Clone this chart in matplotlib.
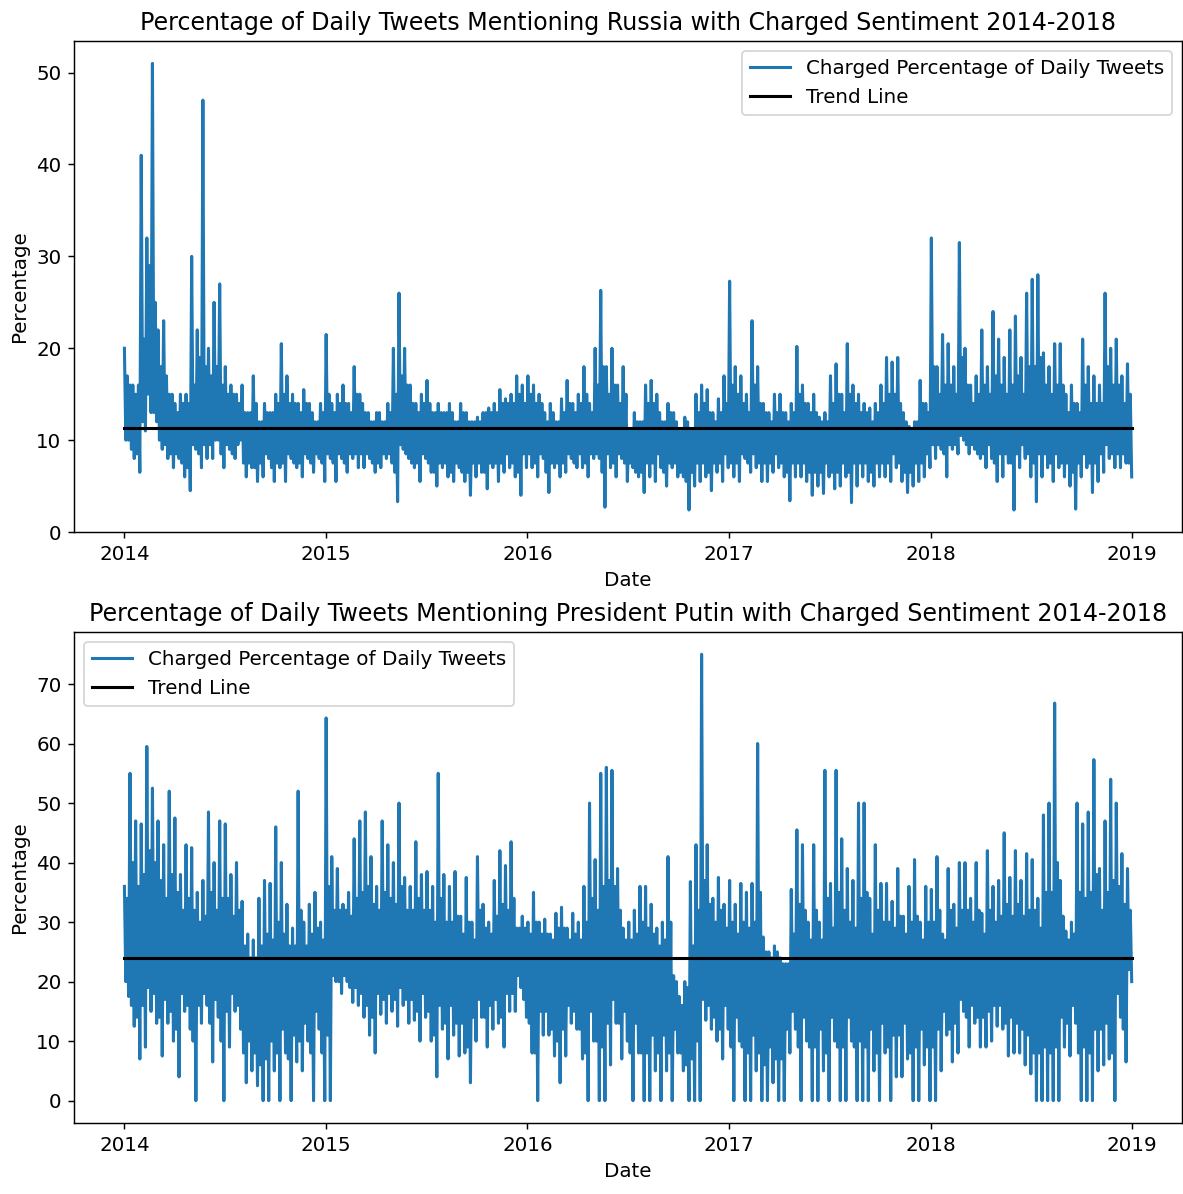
import matplotlib
matplotlib.use('Agg')
import matplotlib.pyplot as plt
import numpy as np
import pandas as pd

plt.rcParams['font.size'] = 11

# daily series, Jan 2014 .. Dec 2018, three readings per month:
# *_hi = spike tops, *_lo = dips, *_cu / *_cl = upper / lower edge of the solid core
russia_hi = [
    20, 16, 15,  41, 32, 51,  22, 23, 15,  14, 15, 15,  30, 22, 47,  20, 25, 27,
    18, 16, 15,  16, 13, 17,  12, 14, 13,  15, 20.5, 17,  15, 14, 15.5,  14, 12, 14,
    21.5, 14, 15,  16, 14, 18,  15, 13, 12,  13, 12, 14,  20, 26, 20,  16, 14, 15,
    16.5, 13, 14,  13, 14, 12,  14, 13, 12,  12.5, 13, 13.5,  14, 15.5, 14.5,  15, 17, 16,
    17, 16, 15,  13, 14, 12,  14.5, 16.5, 14,  15, 18, 14,  20, 26.3, 18,  20, 16, 18,
    11, 13, 12,  16, 16.5, 15,  12, 14, 13,  11, 12.5, 11,  15, 16, 15.5,  13, 14.5, 17,
    27.3, 18, 17,  15, 23, 18,  14, 13, 15,  15, 13, 14,  20.2, 16, 14,  15, 12.5, 13,
    17, 18.3, 15,  20.5, 16, 15,  14, 13.5, 14,  16, 19, 18.5,  19, 13, 11.5,  12, 16.5, 14,
    32, 18, 21.5,  20.5, 18, 31.5,  20, 16, 17,  22, 18, 24,  21, 19, 22,  23.5, 19, 26,
    27.5, 28, 19.5,  18, 20.5, 20.5,  15, 16, 14,  21, 18, 17,  16, 26, 20,  21, 17, 18.3,
]
russia_cu = [
    17, 16, 16,  21, 29, 25,  18, 17, 15,  13, 14, 14,  16, 19, 18,  17, 18, 16,
    15, 15, 14,  13, 13, 14,  12, 13, 13,  14, 15, 14,  14, 13, 14,  13, 12, 13,
    15, 13, 14,  14, 13, 15,  14, 13, 12,  13, 12, 13,  15, 17, 16,  14, 13, 14,
    14, 13, 13,  13, 13, 12,  13, 12, 12,  12, 13, 13,  13, 14, 14,  14, 15, 14,
    15, 14, 14,  12, 13, 12,  13, 14, 13,  14, 15, 13,  16, 18, 15,  16, 14, 15,
    11, 12, 12,  14, 14, 13,  12, 13, 12,  11, 12, 11,  13, 14, 13,  12, 13, 14,
    16, 15, 14,  13, 16, 14,  13, 12, 13,  13, 12, 13,  15, 14, 13,  13, 12, 12,
    14, 15, 13,  15, 14, 13,  13, 12, 13,  14, 15, 15,  14, 12, 11,  12, 14, 13,
    18, 15, 16,  16, 15, 19,  16, 14, 15,  16, 15, 17,  16, 15, 16,  17, 15, 18,
    18, 19, 16,  15, 16, 16,  13, 14, 13,  16, 14, 14,  14, 18, 16,  16, 14, 15,
]
russia_cl = [
    10, 9, 8.5,  12, 15, 13,  10, 9.5, 8.5,  8.5, 7.5, 7,  9.5, 8.5, 9.5,  9.5, 10, 8.5,
    9.5, 8.5, 9.5,  7.5, 7.5, 7,  7.5, 8.5, 7,  7.5, 7.5, 8.5,  7.5, 7.5, 8.5,  7.5, 8.5, 7.5,
    8.5, 7.5, 8.5,  7.5, 8.5, 8.5,  8.5, 8.5, 7.5,  7.5, 8.5, 8.5,  6.5, 9.5, 8.5,  7.5, 7.5, 8.5,
    7.5, 6.5, 7.5,  7.5, 6.5, 7.5,  6.5, 6.5, 7.5,  7.5, 6.5, 7.5,  7.5, 7.5, 8.5,  7.5, 6.5, 8.5,
    8.5, 7.5, 8.5,  6.5, 7.5, 7.5,  7.5, 8.5, 7.5,  8.5, 7.5, 8.5,  8.5, 6.5, 8.5,  7.5, 8.5, 7.5,
    7.5, 6.5, 6.5,  7.5, 7.5, 8.5,  6.5, 7.5, 7.5,  6.5, 5.5, 6.5,  7.5, 7.5, 6.5,  7.5, 7.5, 8.5,
    7.5, 7.5, 8.5,  7.5, 8.5, 7.5,  7.5, 7.5, 8.5,  7.5, 6.5, 7.5,  7.5, 7.5, 6.5,  6.5, 6.5, 7.5,
    6.5, 6.5, 7.5,  6.5, 7.5, 7.5,  7.5, 6.5, 7.5,  7.5, 7.5, 8.5,  7.5, 6.5, 6.5,  7.5, 7.5, 8.5,
    9.5, 9.5, 8.5,  9.5, 9.5, 10.5,  9.5, 9.5, 8.5,  8.5, 9.5, 7.5,  8.5, 8.5, 7.5,  8.5, 9.5, 8.5,
    7.5, 8.5, 8.5,  7.5, 8.5, 7.5,  7.5, 6.5, 7.5,  8.5, 7.5, 7.5,  8.5, 9.5, 8.5,  8.5, 8.5, 7.5,
]
russia_lo = [
    10, 8, 6.5,  11, 13, 12,  9, 8, 7,  8, 6, 4.5,  9, 7, 8,  8, 10, 7,
    9, 8, 10,  6, 7, 5.5,  6, 8, 5.5,  7, 5.5, 8,  7, 6, 8,  6.5, 8, 5.5,
    8, 5.5, 8,  6.5, 8, 7,  7, 8, 6.5,  7, 8, 7.5,  3.3, 9, 8,  7, 5.5, 8,
    6.5, 5, 7,  6, 5.5, 7,  5.5, 4, 6,  6.5, 4.7, 7,  5.5, 6.5, 7,  6, 4, 7,
    7, 6, 8,  4.3, 7, 6,  6.5, 8, 7,  7, 6, 8,  8, 2.7, 7,  6, 8, 5.5,
    7, 6, 4.3,  6, 5.5, 7,  5, 7, 6,  6, 2.4, 5,  5.5, 6, 4.5,  6.5, 5.5, 7,
    6, 5.5, 8,  6.5, 7, 5.5,  5.5, 6.5, 7,  6, 3.4, 6,  6, 5.5, 4,  5, 4.2, 6,
    4.7, 5, 6,  3.2, 5, 6,  5.5, 5, 6,  6, 5.5, 7,  5.5, 4.3, 5,  5.5, 6, 7,
    8, 9, 6,  9, 8.5, 10,  8.5, 9, 8,  7, 8, 5.5,  6, 7.5, 2.4,  7, 8, 6,
    3.3, 6, 7,  5.5, 7, 6,  5, 2.5, 6,  7, 4.3, 5.5,  6.5, 8, 7,  7, 7.5, 6,
]

putin_hi = [
    36, 55, 47,  46.5, 59.5, 52.5,  47, 43, 52,  47.5, 38, 43,  42.5, 35, 37,  48.5, 40, 47,
    46.5, 38, 40,  33.5, 28, 27,  34, 37, 36.5,  46, 40, 33,  29, 52, 30,  33, 35, 30,
    64.3, 41, 39,  33, 35, 44,  47, 48.5, 41,  36, 47, 43,  40, 50, 37.5,  36, 43.5, 38,
    38.5, 36, 55,  38, 36, 38.5,  31, 37.5, 30,  41, 33, 30,  37, 42, 39.5,  43.5, 29, 31,
    30, 35, 30,  30.5, 28, 31.5,  32.5, 29, 31.5,  30, 36, 50,  40.5, 55, 56,  55.5, 39, 29,
    30, 32, 36,  36, 33, 29,  30, 41, 21,  17.5, 20, 36.8,  43, 75, 43,  34, 37.5, 33,
    37, 33, 36.5,  35, 36.5, 60,  27.5, 25, 26,  24, 23, 35.5,  45.5, 43, 30,  43, 30, 55.5,
    36.5, 55.5, 44,  39, 37, 50,  50, 34, 43,  36.5, 36.5, 33.5,  39, 31, 36,  40.5, 30, 36,
    35.5, 41, 28,  39, 33, 40,  40, 34, 40,  31.5, 42, 36,  37, 45, 37.5,  42, 37, 41.5,
    40.5, 34, 48,  50, 66.8, 37,  28.5, 30, 50,  46.5, 48.5, 57.3,  39, 47, 54,  50, 41.5, 39,
]
putin_cu = [
    34, 40, 36,  38, 42, 40,  37, 34, 38,  35, 32, 34,  32, 30, 31,  35, 32, 34,
    34, 31, 32,  26, 24, 24,  26, 28, 27,  30, 28, 26,  26, 32, 26,  28, 29, 27,
    36, 32, 32,  32, 31, 34,  35, 36, 33,  32, 35, 34,  33, 36, 32,  32, 34, 32,
    32, 30, 34,  30, 30, 31,  28, 30, 27,  32, 29, 28,  31, 33, 32,  34, 29, 29,
    28, 30, 28,  28, 27, 29,  29, 27, 28,  27, 30, 34,  32, 36, 37,  36, 32, 27,
    27, 28, 30,  29, 28, 26,  27, 30, 20,  16, 19, 26,  32, 37, 33,  30, 32, 29,
    30, 28, 30,  29, 30, 35,  25, 24, 25,  23, 23, 28,  33, 32, 27,  32, 27, 34,
    29, 35, 32,  30, 29, 34,  35, 28, 32,  30, 30, 29,  31, 28, 30,  31, 27, 30,
    30, 32, 27,  32, 29, 32,  32, 30, 32,  28, 32, 30,  31, 33, 31,  33, 31, 32,
    32, 29, 35,  35, 40, 31,  27, 28, 35,  34, 35, 38,  32, 35, 37,  36, 33, 32,
]
putin_cl = [
    20, 16, 14,  16, 19, 18,  14, 17, 15,  12, 18, 16,  10, 16, 18,  13, 17, 10,
    15, 18, 16,  8, 10, 8,  6, 7, 10,  8, 12, 7,  11, 10, 13,  8, 15, 8,
    11, 21, 20,  21, 19, 19,  18, 16, 14,  18, 17, 18,  17, 19, 17,  17, 15, 18,
    15, 11, 16,  13, 16, 13,  13, 9, 14,  17, 14, 16,  17, 14, 18,  18, 21, 17,
    13, 8, 15,  15, 12, 10,  12, 16, 15,  12, 8, 15,  10, 9, 13,  17, 13, 15,
    8, 13, 8,  8, 11, 8,  11, 8, 12,  8, 6, 7,  10, 17, 16,  14, 12, 16,
    9, 14, 9,  8, 11, 8,  6, 9, 7,  7, 12, 15,  9, 14, 9,  9, 12, 8,
    14, 9, 9,  14, 9, 10,  9, 12, 8,  13, 9, 11,  11, 13, 8,  9, 12, 9,
    9, 12, 15,  12, 13, 17,  14, 16, 14,  14, 15, 16,  16, 13, 14,  13, 12, 11,
    8, 8, 9,  8, 9, 14,  13, 16, 8,  9, 8, 12,  12, 13, 8,  18, 12, 22,
]
putin_lo = [
    17.5, 12.5, 7,  9, 15, 13,  7.5, 13, 10,  4, 15, 12,  0, 13, 16,  6.5, 14, 0,
    9, 15, 12,  3, 5, 2.5,  0, 0, 5,  0, 8, 0,  6.5, 5, 10,  0, 12, 0,
    0, 20, 18,  20, 16.5, 16,  14, 11, 8,  14.5, 13, 15,  12.5, 16, 13,  13.5, 10, 14,
    10, 4, 12,  7, 11, 7.5,  8, 3, 10,  14, 9, 12,  13, 9, 15,  15, 19, 14,
    8, 0, 11,  11, 7.5, 3,  7.5, 13, 12,  7, 0, 10,  0, 0, 6,  13, 7, 10,
    0, 8, 0,  0, 5, 0,  5, 0, 8,  5, 0, 0,  0, 13.5, 12,  10, 7, 12,
    0, 10, 0,  0, 5, 0,  0, 3, 0,  0, 8, 12,  0, 10, 0,  0, 5, 0,
    10, 0, 0,  10, 0, 0,  0, 5, 0,  8, 0, 4,  4, 7, 0,  0, 6, 0,
    0, 5, 11,  6.5, 8, 15,  9, 13, 9,  9, 10, 12.5,  12, 7.5, 8,  8, 6, 4.5,
    0, 0, 0,  0, 0, 9,  7.5, 13, 0,  0, 0, 5,  6, 7, 0,  14, 6.5, 20,
]

russia_trend = [11.3, 11.3]
putin_trend = [24.0, 24.0]
trend_dates = pd.to_datetime(['2014-01-01', '2018-12-31'])

# order the readings as the line visits them: top, core bottom, core top, dip
russia = np.column_stack([russia_hi, russia_cl, russia_cu, russia_lo]).ravel()
putin = np.column_stack([putin_hi, putin_cl, putin_cu, putin_lo]).ravel()
dates = pd.date_range('2014-01-01', '2018-12-31', periods=len(russia))

fig = plt.figure(figsize=(1183 / 130, 1194 / 130), dpi=130)
ax1 = fig.add_axes([0.0626, 0.5544, 0.9366, 0.4112])
ax2 = fig.add_axes([0.0626, 0.0595, 0.9366, 0.4112])

ax1.plot(dates, russia, color='#1f77b4', lw=1.7, label='Charged Percentage of Daily Tweets')
ax1.plot(trend_dates, russia_trend, color='black', lw=1.7, label='Trend Line')
ax1.set_ylim(bottom=0)
ax1.set_title('Percentage of Daily Tweets Mentioning Russia with Charged Sentiment 2014-2018')
ax1.set_xlabel('Date')
ax1.set_ylabel('Percentage')
ax1.legend(loc='upper right')

ax2.plot(dates, putin, color='#1f77b4', lw=1.7, label='Charged Percentage of Daily Tweets')
ax2.plot(trend_dates, putin_trend, color='black', lw=1.7, label='Trend Line')
ax2.set_title('Percentage of Daily Tweets Mentioning President Putin with Charged Sentiment 2014-2018')
ax2.set_xlabel('Date')
ax2.set_ylabel('Percentage')
ax2.legend(loc='upper left')

fig.savefig('out.png', dpi=130)
